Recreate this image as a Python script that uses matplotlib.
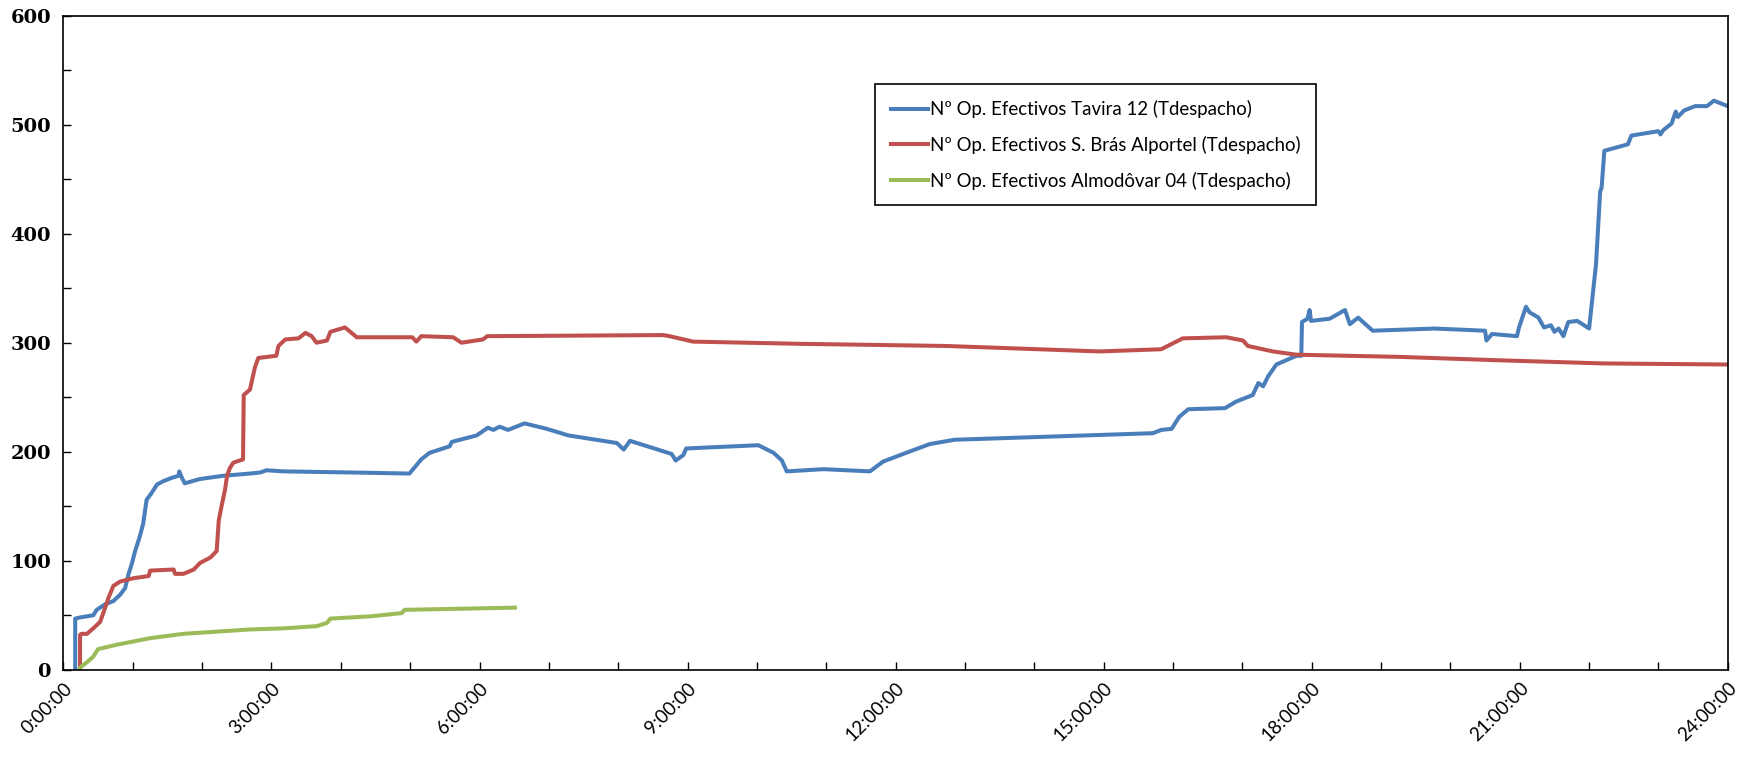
import matplotlib
matplotlib.use('Agg')
import matplotlib.pyplot as plt
from matplotlib.ticker import MultipleLocator, FuncFormatter

# hours since midnight, number of operations
tavira_h = [0.17, 0.17, 0.24, 0.43, 0.48, 0.60, 0.72, 0.82, 0.89, 0.94, 0.99, 1.03,
            1.10, 1.15, 1.20, 1.27, 1.35, 1.44, 1.56, 1.66, 1.67, 1.71, 1.75, 1.97,
            2.31, 2.69, 2.84, 2.93, 3.17, 4.13, 4.99, 5.16, 5.28, 5.57, 5.60, 5.96,
            6.12, 6.20, 6.29, 6.41, 6.65, 6.97, 7.28, 7.98, 8.08, 8.17, 8.77, 8.83,
            8.94, 8.98, 10.02, 10.24, 10.36, 10.43, 10.96, 11.63, 11.82, 12.11, 12.49,
            12.85, 15.71, 15.83, 15.98, 16.09, 16.22, 16.75, 16.91, 17.15, 17.23, 17.30,
            17.37, 17.49, 17.78, 17.85, 17.86, 17.94, 17.97, 17.99, 18.26, 18.48, 18.55,
            18.67, 18.88, 19.77, 20.50, 20.52, 20.60, 20.96, 20.99, 21.09, 21.14, 21.27,
            21.35, 21.45, 21.50, 21.56, 21.63, 21.70, 21.83, 22.00, 22.10, 22.16, 22.18,
            22.22, 22.39, 22.56, 22.61, 23.00, 23.03, 23.07, 23.19, 23.25, 23.28, 23.37,
            23.53, 23.70, 23.80, 24.00]
tavira_v = [0, 47, 48, 50, 55, 60, 63, 69, 75, 88, 98, 108,
            122, 134, 156, 162, 170, 173, 176, 178, 182, 176, 171, 175,
            178, 180, 181, 183, 182, 181, 180, 193, 199, 205, 209, 215,
            222, 220, 223, 220, 226, 221, 215, 208, 202, 210, 198, 192,
            197, 203, 206, 199, 192, 182, 184, 182, 191, 198, 207,
            211, 217, 220, 221, 232, 239, 240, 246, 252, 263, 260,
            269, 280, 288, 288, 319, 322, 330, 320, 322, 330, 317,
            323, 311, 313, 311, 302, 308, 306, 314, 333, 328, 323,
            314, 316, 310, 313, 306, 319, 320, 313, 372, 439, 442,
            476, 479, 482, 490, 494, 491, 495, 501, 512, 507, 513,
            517, 517, 522, 517]

bras_h = [0.24, 0.24, 0.26, 0.34, 0.43, 0.53, 0.58, 0.65, 0.72, 0.82, 1.01, 1.23,
          1.25, 1.59, 1.61, 1.73, 1.88, 1.97, 2.12, 2.21, 2.24, 2.28, 2.33, 2.36,
          2.40, 2.45, 2.59, 2.60, 2.69, 2.76, 2.81, 3.07, 3.10, 3.20, 3.39, 3.49,
          3.58, 3.65, 3.80, 3.85, 4.06, 4.23, 5.03, 5.09, 5.16, 5.62, 5.74, 6.05,
          6.11, 8.65, 8.74, 9.08, 10.61, 12.74, 14.94, 15.83, 16.14, 16.77, 17.01,
          17.08, 17.44, 17.78, 19.27, 20.64, 22.20, 24.00]
bras_v = [0, 32, 33, 33, 38, 44, 53, 66, 77, 81, 84, 86,
          91, 92, 88, 88, 92, 98, 103, 109, 137, 150, 165, 178,
          185, 190, 193, 252, 257, 277, 286, 288, 297, 303, 304, 309,
          306, 300, 302, 310, 314, 305, 305, 301, 306, 305, 300, 303,
          306, 307, 306, 301, 299, 297, 292, 294, 304, 305, 302,
          297, 292, 289, 287, 284, 281, 280]

almo_h = [0.24, 0.34, 0.43, 0.50, 0.77, 1.25, 1.73, 2.21, 2.69, 3.17, 3.65, 3.80,
          3.85, 4.42, 4.88, 4.92, 6.51]
almo_v = [2, 7, 12, 19, 23, 29, 33, 35, 37, 38, 40, 43,
          47, 49, 52, 55, 57]

labels = ['Nº Op. Efectivos Tavira 12 (Tdespacho)',
          'Nº Op. Efectivos S. Brás Alportel (Tdespacho)',
          'Nº Op. Efectivos Almodôvar 04 (Tdespacho)']
colors = ['#4A7EBB', '#C0504D', '#9BBB59']

fig = plt.figure(figsize=(17.47, 7.62), dpi=100)
ax = fig.add_axes([0.0363, 0.121, 0.9527, 0.8585])

ax.plot(tavira_h, tavira_v, color=colors[0], lw=2.9, label=labels[0])
ax.plot(bras_h, bras_v, color=colors[1], lw=2.9, label=labels[1])
ax.plot(almo_h, almo_v, color=colors[2], lw=2.9, label=labels[2])

ax.set_xlim(0, 24)
ax.set_ylim(0, 600)

ax.xaxis.set_major_locator(MultipleLocator(3))
ax.xaxis.set_minor_locator(MultipleLocator(1))
ax.yaxis.set_major_locator(MultipleLocator(100))
ax.yaxis.set_minor_locator(MultipleLocator(50))
ax.xaxis.set_major_formatter(FuncFormatter(lambda x, pos: f'{int(round(x))}:00:00'))

ax.tick_params(axis='both', which='both', direction='in', length=6, width=1)
ax.tick_params(axis='x', pad=7)
ax.tick_params(axis='y', pad=9)
for lab in ax.get_xticklabels():
    lab.set_rotation(45)
    lab.set_ha('right')
    lab.set_va('top')
    lab.set_rotation_mode('anchor')
    lab.set_fontfamily('Lato')
    lab.set_fontsize(13.5)
for lab in ax.get_yticklabels():
    lab.set_fontfamily('DejaVu Serif')
    lab.set_fontweight('bold')
    lab.set_fontsize(14)

for sp in ax.spines.values():
    sp.set_linewidth(1.2)

leg = ax.legend(loc='upper left', bbox_to_anchor=(0.4875, 0.895), borderaxespad=0,
                fancybox=False, edgecolor='black', framealpha=1,
                prop={'family': 'Lato', 'size': 13.4}, handlelength=2.0,
                handletextpad=0.1, labelspacing=0.95, borderpad=0.85)
leg.get_frame().set_linewidth(1.2)

fig.savefig('out.png', dpi=100)
